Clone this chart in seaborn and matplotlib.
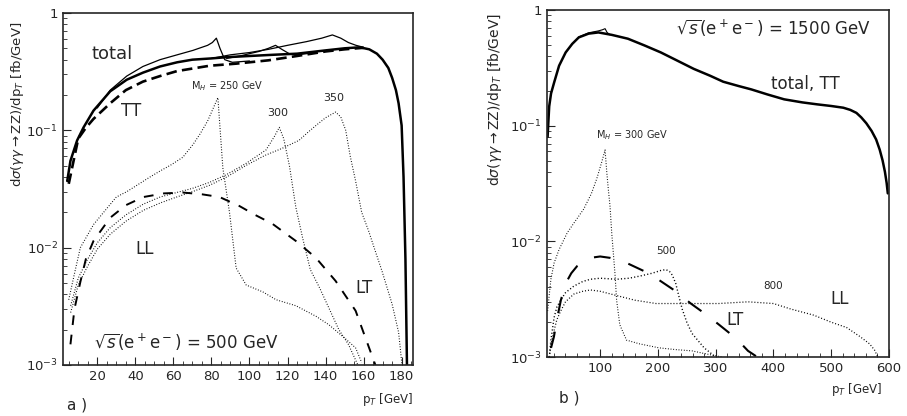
"""
Two-panel pT spectra of gamma gamma -> ZZ at sqrt(s) = 500 and 1500 GeV.
"""

import matplotlib
matplotlib.use("Agg")
import matplotlib.pyplot as plt
from matplotlib.ticker import FixedLocator, MultipleLocator, LogLocator, NullFormatter
import seaborn as sns

# ---------------- panel a) sqrt(s) = 500 GeV ----------------
pt_a_total = [4.2, 5.9, 9.4, 12.8, 18, 26.8, 35.5, 44, 53, 62, 70, 80, 88, 100, 112, 125,
              140, 150, 158, 163, 167, 170, 173, 175, 177, 178.4, 180, 181, 182, 182.8]
sig_a_total = [0.037, 0.055, 0.082, 0.106, 0.147, 0.215, 0.27, 0.31, 0.35, 0.38, 0.40, 0.41,
               0.42, 0.43, 0.44, 0.45, 0.48, 0.50, 0.51, 0.49, 0.45, 0.40, 0.34, 0.28, 0.22,
               0.17, 0.11, 0.04, 0.008, 0.001]

pt_a_tt = [5, 10, 14, 18, 26.8, 35, 44, 53, 62, 79, 93, 110, 125, 140, 150, 160]
sig_a_tt = [0.035, 0.085, 0.105, 0.125, 0.17, 0.22, 0.26, 0.29, 0.32, 0.355, 0.37, 0.395,
            0.43, 0.47, 0.49, 0.505]

pt_a_tot250 = [20, 26.8, 35.5, 44, 53, 62, 70.3, 75, 78, 80.5, 82.6, 84.5, 87, 91, 100]
sig_a_tot250 = [0.155, 0.22, 0.29, 0.35, 0.40, 0.44, 0.48, 0.51, 0.53, 0.56, 0.61, 0.50,
                0.40, 0.38, 0.39]

pt_a_tot300 = [88, 95, 100, 105, 110, 113.7, 117, 120.9, 125, 135]
sig_a_tot300 = [0.41, 0.43, 0.45, 0.47, 0.50, 0.53, 0.49, 0.45, 0.44, 0.46]

pt_a_tot350 = [80, 90, 100, 110, 120, 130, 138, 143.6, 148, 152, 156, 160]
sig_a_tot350 = [0.41, 0.44, 0.46, 0.49, 0.53, 0.57, 0.61, 0.65, 0.61, 0.56, 0.53, 0.51]

pt_a_ll250 = [5, 8, 11.1, 18.1, 30, 35.5, 47.7, 53, 59, 65, 70.4, 74, 78, 83.4, 86, 89.5, 93,
              98.3, 107, 114, 124.4, 135, 141.8, 150, 155.8, 159]
sig_a_ll250 = [0.0036, 0.006, 0.01, 0.0158, 0.027, 0.030, 0.040, 0.045, 0.051, 0.059, 0.076,
               0.093, 0.12, 0.19, 0.048, 0.02, 0.0067, 0.0048, 0.0042, 0.0036, 0.0032, 0.0026,
               0.0022, 0.0017, 0.0014, 0.00105]

pt_a_ll300 = [6, 10, 14.6, 20, 26.8, 35, 44.2, 53, 61.7, 70, 79, 88, 98, 108.7, 113, 115.7,
              118, 121, 124.4, 128, 132, 137, 142, 147, 152, 157]
sig_a_ll300 = [0.0032, 0.0055, 0.0078, 0.011, 0.0148, 0.019, 0.0235, 0.027, 0.0295, 0.032,
               0.036, 0.042, 0.052, 0.068, 0.088, 0.106, 0.085, 0.05, 0.022, 0.012, 0.0065,
               0.0045, 0.003, 0.002, 0.0015, 0.001]

pt_a_ll350 = [6, 10, 14.6, 20, 26.8, 35, 44.2, 53, 61.7, 70, 79, 88, 98, 108, 117, 126, 131,
              135, 140, 145.3, 148, 150.6, 153, 155.8, 159, 162.7, 166, 169.7, 175, 178.4, 180.2]
sig_a_ll350 = [0.0028, 0.0048, 0.0068, 0.0097, 0.013, 0.0168, 0.0208, 0.024, 0.027, 0.030,
               0.034, 0.040, 0.050, 0.061, 0.07, 0.082, 0.097, 0.11, 0.128, 0.143, 0.13, 0.1,
               0.06, 0.037, 0.02, 0.0138, 0.0095, 0.0063, 0.0033, 0.0019, 0.001]

pt_a_lt = [5.9, 8, 11.1, 14, 18, 26.8, 35, 44.2, 55, 65, 75, 84.3, 94.8, 103, 112, 124.4,
           134.9, 145.3, 150, 155.8, 161, 166.2]
sig_a_lt = [0.0015, 0.003, 0.0051, 0.008, 0.0114, 0.018, 0.023, 0.027, 0.029, 0.0295, 0.0285,
            0.027, 0.0226, 0.019, 0.016, 0.0114, 0.0082, 0.0052, 0.004, 0.0029, 0.0017, 0.001]

# ---------------- panel b) sqrt(s) = 1500 GeV ----------------
pt_b_total = [9, 10, 11.8, 15, 20.3, 28.9, 40.3, 51.7, 63, 80, 97, 120, 148, 176.8, 205,
              233.6, 262, 290.6, 313, 340, 361.6, 390, 418.6, 450, 475.4, 500, 521, 533,
              543.7, 552, 560.8, 570, 577.8, 584, 589, 593, 596, 598]
sig_b_total = [0.08, 0.1, 0.147, 0.19, 0.236, 0.33, 0.43, 0.51, 0.58, 0.625, 0.64, 0.61,
               0.565, 0.494, 0.43, 0.365, 0.31, 0.27, 0.24, 0.22, 0.206, 0.186, 0.169,
               0.159, 0.153, 0.148, 0.143, 0.137, 0.129, 0.118, 0.105, 0.09, 0.076, 0.062,
               0.05, 0.04, 0.032, 0.026]

pt_b_tot300 = [63, 80, 97, 104, 108.5, 112, 117]
sig_b_tot300 = [0.585, 0.635, 0.66, 0.675, 0.69, 0.64, 0.61]

pt_b_ll300 = [9, 14.7, 20.3, 28.9, 43.2, 55, 71.5, 85, 94.3, 103, 108.5, 111.4, 114.2, 117,
              120, 125.6, 128.5, 134, 145.6, 168, 202, 230, 259, 285, 311]
sig_b_ll300 = [0.0025, 0.0047, 0.0065, 0.0085, 0.0119, 0.0145, 0.019, 0.026, 0.035, 0.049,
               0.0617, 0.04, 0.028, 0.0204, 0.0119, 0.0053, 0.0031, 0.0019, 0.0014, 0.0013,
               0.0012, 0.00116, 0.00113, 0.00106, 0.001]

pt_b_ll500 = [12, 14.7, 20.3, 25, 31.7, 40, 54.4, 70, 83, 100, 128.5, 150, 168, 190, 205,
              213.8, 220, 225, 231, 236, 242, 250, 259, 280, 300]
sig_b_ll500 = [0.001, 0.0014, 0.0022, 0.0027, 0.0031, 0.0036, 0.0041, 0.0045, 0.0047, 0.0048,
               0.0047, 0.0048, 0.005, 0.0053, 0.0056, 0.0057, 0.0055, 0.0051, 0.0043, 0.0034,
               0.0026, 0.002, 0.0016, 0.0012, 0.001]

pt_b_ll800 = [12, 15, 20.3, 25, 31.7, 40, 54.4, 70, 83, 100, 128.5, 160, 196.8, 240, 270, 305,
              356, 400, 430, 469.8, 500, 526.6, 550, 566.4, 575, 580.7]
sig_b_ll800 = [0.001, 0.0013, 0.0017, 0.0021, 0.0025, 0.003, 0.0035, 0.0037, 0.0038, 0.0037,
               0.0034, 0.0031, 0.0029, 0.0029, 0.0029, 0.0029, 0.003, 0.0029, 0.0026, 0.0023,
               0.0020, 0.0018, 0.0015, 0.0013, 0.00115, 0.001]

pt_b_lt = [15, 20, 25, 32, 40, 50, 60, 83, 100, 117, 146, 177, 200, 231, 257, 285, 306, 336,
           356, 372]
sig_b_lt = [0.0012, 0.0015, 0.0021, 0.0031, 0.0043, 0.0053, 0.0061, 0.0072, 0.0074, 0.0072,
            0.0065, 0.0055, 0.0047, 0.0037, 0.0029, 0.0023, 0.0019, 0.00144, 0.00113, 0.001]

y_ticks = [1e-3, 1e-2, 1e-1, 1]
y_ticklabels = [r'$10^{-3}$', r'$10^{-2}$', r'$10^{-1}$', '1']
ylabel = r'd$\sigma$($\gamma\gamma\rightarrow$ZZ)/dp$_T$ [fb/GeV]'
xlabel = r'p$_T$ [GeV]'


def draw(ax, x, y, **kw):
    """Plot one curve through seaborn, no aggregation."""
    sns.lineplot(x=x, y=y, ax=ax, color='k', estimator=None, sort=False, **kw)


def style_axes(ax, xlim, xmajor, xminor, ylabel_size):
    ax.set_yscale('log')
    ax.set_ylim(1e-3, 1)
    ax.set_xlim(*xlim)
    ax.yaxis.set_major_locator(FixedLocator(y_ticks))
    ax.set_yticklabels(y_ticklabels)
    ax.yaxis.set_minor_locator(LogLocator(base=10, subs=range(2, 10)))
    ax.yaxis.set_minor_formatter(NullFormatter())
    ax.xaxis.set_major_locator(MultipleLocator(xmajor))
    ax.xaxis.set_minor_locator(MultipleLocator(xminor))
    ax.tick_params(which='both', direction='in', labelsize=9.5)
    ax.tick_params(which='major', length=6)
    ax.tick_params(which='minor', length=3)
    for sp in ax.spines.values():
        sp.set_linewidth(1.2)
        sp.set_visible(True)
    ax.set_xlabel(xlabel, fontsize=8.5, loc='right')
    ax.set_ylabel(ylabel, fontsize=ylabel_size, loc='top')


sns.set_style("ticks")
plt.rcParams['font.family'] = ['DejaVu Sans']
plt.rcParams['mathtext.fontset'] = 'dejavusans'

fig = plt.figure(figsize=(9.07, 4.16), dpi=100)
ax_a = fig.add_axes([0.0695, 0.1226, 0.3859, 0.8462])
ax_b = fig.add_axes([0.6031, 0.1418, 0.3770, 0.8341])

dotted = (0, (0.8, 1.6))

# panel a
draw(ax_a, pt_a_total, sig_a_total, lw=1.8)
draw(ax_a, pt_a_tt, sig_a_tt, lw=1.9, linestyle=(0, (4, 2)))
draw(ax_a, pt_a_tot250, sig_a_tot250, lw=0.9)
draw(ax_a, pt_a_tot300, sig_a_tot300, lw=0.9)
draw(ax_a, pt_a_tot350, sig_a_tot350, lw=0.9)
draw(ax_a, pt_a_ll250, sig_a_ll250, lw=0.8, linestyle=dotted)
draw(ax_a, pt_a_ll300, sig_a_ll300, lw=0.8, linestyle=dotted)
draw(ax_a, pt_a_ll350, sig_a_ll350, lw=0.8, linestyle=dotted)
draw(ax_a, pt_a_lt, sig_a_lt, lw=1.4, linestyle=(0, (5, 5)))
style_axes(ax_a, (2, 186), 20, 5, 9.5)
ax_a.yaxis.set_label_coords(-0.105, 0.975)
ax_a.xaxis.set_label_coords(1.0, -0.075)

ax_a.text(28, 0.45, 'total', fontsize=13, ha='center', va='center')
ax_a.text(38, 0.147, 'TT', fontsize=12, ha='center', va='center')
ax_a.text(88, 0.24, r'M$_H$ = 250 GeV', fontsize=7, ha='center', va='center')
ax_a.text(114.7, 0.14, '300', fontsize=8, ha='center', va='center')
ax_a.text(144.5, 0.19, '350', fontsize=8, ha='center', va='center')
ax_a.text(45, 0.0097, 'LL', fontsize=12, ha='center', va='center')
ax_a.text(160, 0.0045, 'LT', fontsize=12, ha='center', va='center')
ax_a.text(67, 0.0016, r'$\sqrt{s}$(e$^+$e$^-$) = 500 GeV', fontsize=12,
          ha='center', va='center')

# panel b
draw(ax_b, pt_b_total, sig_b_total, lw=1.8)
draw(ax_b, pt_b_tot300, sig_b_tot300, lw=0.8)
draw(ax_b, pt_b_ll300, sig_b_ll300, lw=0.8, linestyle=dotted)
draw(ax_b, pt_b_ll500, sig_b_ll500, lw=1.0, linestyle=dotted)
draw(ax_b, pt_b_ll800, sig_b_ll800, lw=0.9, linestyle=dotted)
draw(ax_b, pt_b_lt, sig_b_lt, lw=1.5, linestyle=(0, (8, 9)))
style_axes(ax_b, (8, 600), 100, 20, 10)
ax_b.yaxis.set_label_coords(-0.125, 0.99)
ax_b.xaxis.set_label_coords(0.98, -0.07)

ax_b.text(401, 0.71, r'$\sqrt{s}$(e$^+$e$^-$) = 1500 GeV', fontsize=12,
          ha='center', va='center')
ax_b.text(455, 0.23, 'total, TT', fontsize=12, ha='center', va='center')
ax_b.text(156, 0.083, r'M$_H$ = 300 GeV', fontsize=7, ha='center', va='center')
ax_b.text(214, 0.0082, '500', fontsize=7.5, ha='center', va='center')
ax_b.text(399, 0.0041, '800', fontsize=7.5, ha='center', va='center')
ax_b.text(515, 0.0032, 'LL', fontsize=12, ha='center', va='center')
ax_b.text(333, 0.0021, 'LT', fontsize=12, ha='center', va='center')

fig.text(0.085, 0.026, 'a )', fontsize=11, ha='center', va='center')
fig.text(0.628, 0.043, 'b )', fontsize=11, ha='center', va='center')

fig.savefig('out.png', dpi=100)
